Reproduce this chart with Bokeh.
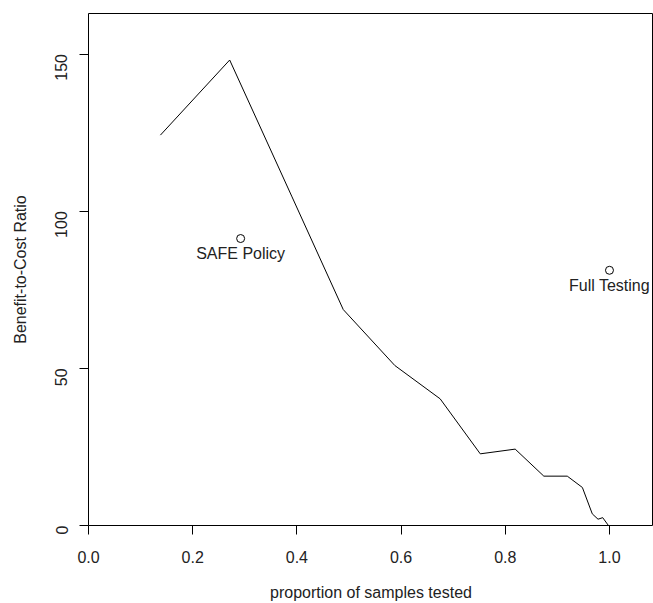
from bokeh.plotting import figure
from bokeh.models import Range1d, FixedTicker, PrintfTickFormatter, ColumnDataSource
from bokeh.core.properties import value
from bokeh.embed import file_html
from bokeh.resources import INLINE
import math

# ---- data ----
prop_tested = [0.138, 0.271, 0.39, 0.489, 0.588, 0.675, 0.752, 0.819, 0.874,
               0.919, 0.948, 0.967, 0.978, 0.987, 0.998]
bc_ratio = [124.2, 148.1, 104.8, 68.7, 50.9, 40.3, 22.8, 24.3, 15.7,
            15.7, 12.1, 3.7, 2.0, 2.5, 0.0]

policy_names = ["SAFE Policy", "Full Testing"]
policy_x = [0.292, 1.0]
policy_y = [91.3, 81.2]

x_ticks = [0.0, 0.2, 0.4, 0.6, 0.8, 1.0]
y_ticks = [0, 50, 100, 150]

FONT = "Liberation Sans"
TXT = "#222222"

p = figure(width=653, height=603, output_backend="svg", toolbar_location=None,
           x_range=Range1d(0, 1.0845), y_range=Range1d(0, 162.9),
           min_border_left=88, min_border_top=13, min_border_right=0,
           min_border_bottom=78)

p.xgrid.visible = False
p.ygrid.visible = False
p.outline_line_color = "#000000"
p.outline_line_width = 1
p.background_fill_color = "white"
p.border_fill_color = "white"

# x axis
xa = p.xaxis[0]
xa.ticker = FixedTicker(ticks=x_ticks)
xa.formatter = PrintfTickFormatter(format="%.1f")
xa.axis_label = "proportion of samples tested"
xa.axis_line_color = None
xa.major_tick_in = 0
xa.major_tick_out = 9
xa.major_tick_line_color = "#000000"
xa.minor_tick_line_color = None
xa.major_label_standoff = 16
xa.axis_label_standoff = 18
xa.major_label_text_font = FONT
xa.major_label_text_font_size = "16px"
xa.major_label_text_color = TXT
xa.axis_label_text_font = FONT
xa.axis_label_text_font_size = "16px"
xa.axis_label_text_font_style = "normal"
xa.axis_label_text_color = TXT

# y axis
ya = p.yaxis[0]
ya.ticker = FixedTicker(ticks=y_ticks)
ya.axis_label = "Benefit-to-Cost Ratio"
ya.axis_line_color = None
ya.major_tick_in = 0
ya.major_tick_out = 9
ya.major_tick_line_color = "#000000"
ya.minor_tick_line_color = None
ya.major_label_orientation = math.pi / 2
ya.major_label_standoff = 18
ya.axis_label_standoff = 18
ya.major_label_text_font = FONT
ya.major_label_text_font_size = "16px"
ya.major_label_text_color = TXT
ya.axis_label_text_font = FONT
ya.axis_label_text_font_size = "16px"
ya.axis_label_text_font_style = "normal"
ya.axis_label_text_color = TXT

# curve
p.line(prop_tested, bc_ratio, line_color="#000000", line_width=1)

# policy points
src = ColumnDataSource(dict(x=policy_x, y=policy_y, name=policy_names))
p.scatter("x", "y", source=src, marker="circle", size=8,
          fill_color=None, line_color="#000000", line_width=1)
p.text("x", "y", text="name", source=src, y_offset=15,
       text_align="center", text_baseline="middle",
       text_font=value(FONT), text_font_size="16px", text_color=TXT)

open("out.html", "w").write(file_html(p, INLINE))
